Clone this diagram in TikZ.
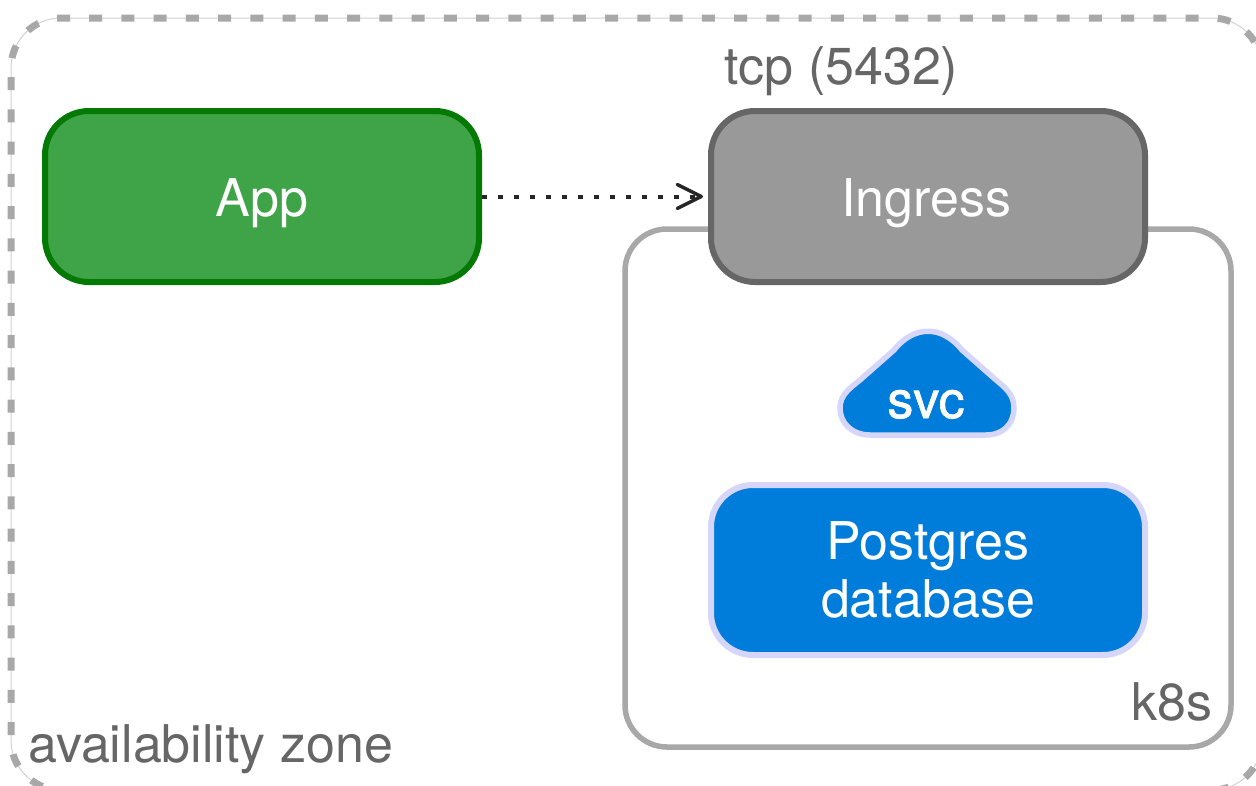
\documentclass[tikz,border=0pt]{standalone}
\usepackage{fontspec}
\setmainfont{TeX Gyre Heros}
\newfontfamily\svcfont[FakeBold=1.2]{TeX Gyre Heros}
\usetikzlibrary{arrows.meta}
\definecolor{greyline}{HTML}{A8A8A8}
\definecolor{greytext}{HTML}{666666}
\definecolor{appfill}{HTML}{3FA447}
\definecolor{appline}{HTML}{047A04}
\definecolor{ingfill}{HTML}{999999}
\definecolor{ingline}{HTML}{666666}
\definecolor{dbfill}{HTML}{007CDB}
\definecolor{dbline}{HTML}{D6D6FA}
\tikzset{
  box/.style={draw, line width=6pt, rounded corners=44pt, minimum width=434pt, inner sep=0pt, text=white, font=\fontsize{52}{58}\selectfont, align=center},
  lab/.style={text=greytext, inner sep=0pt, font=\fontsize{52}{60}\selectfont},
  zonedash/.style={line width=7pt, greyline, dash pattern=on 13pt off 19.25pt, rounded corners=50pt},
}
\begin{document}
\begin{tikzpicture}[x=1pt,y=-1pt]
\useasboundingbox (0,0) rectangle (1256,785);
\fill[white] (0,0) rectangle (1256,785);
% zone
\draw[line width=1pt, black!18, rounded corners=50pt] (11,18) rectangle (1262,790);
\draw[zonedash] (89,18) -- (1262,18) -- (1262,790) -- (640,790);
\draw[zonedash] (70,18) -- (11,18) -- (11,790) -- (640,790);
% k8s
\draw[greyline, line width=5.5pt, rounded corners=42pt] (625,229) rectangle (1231,747);
\node[box, fill=appfill, draw=appline, minimum height=171pt] (app) at (262,196.5) {\raisebox{-19.5pt}[0pt][0pt]{App}};
\node[box, fill=ingfill, draw=ingline, minimum height=171pt] (ing) at (928,196.5) {\raisebox{-19.5pt}[0pt][0pt]{\hspace{-3pt}Ingress}};
\node[box, fill=dbfill, draw=dbline, minimum height=170pt, rounded corners=42pt] (db) at (928,570) {Postgres\\database};
\draw[dbline, fill=dbfill, line width=5.5pt]
  (870,435) -- (986,435) .. controls (1004,435) and (1014,423) .. (1014,408)
  .. controls (1014,395) and (1006,388) .. (996,380) -- (962,350)
  .. controls (942,325) and (914,325) .. (894,350) -- (860,380)
  .. controls (850,388) and (840,395) .. (840,408)
  .. controls (840,423) and (852,435) .. (870,435) -- cycle;
\node[text=white, inner sep=0pt, anchor=base, font=\svcfont\fontsize{52}{58}\selectfont] (svc) at (926,418) {svc};
\draw[dash pattern=on 5pt off 11pt, line width=4pt, black!85, shorten >=5pt, -{Straight Barb[length=24pt,width=24pt,line width=3.5pt,round]}] (app.east) -- (ing.west);
\node[lab, anchor=base west] (tcp) at (724,84) {tcp (5432)};
\node[lab, anchor=base east] (k8s) at (1213,720) {k8s};
\node[lab, anchor=base west] (az) at (28,762) {availability zone};
\end{tikzpicture}
\end{document}
